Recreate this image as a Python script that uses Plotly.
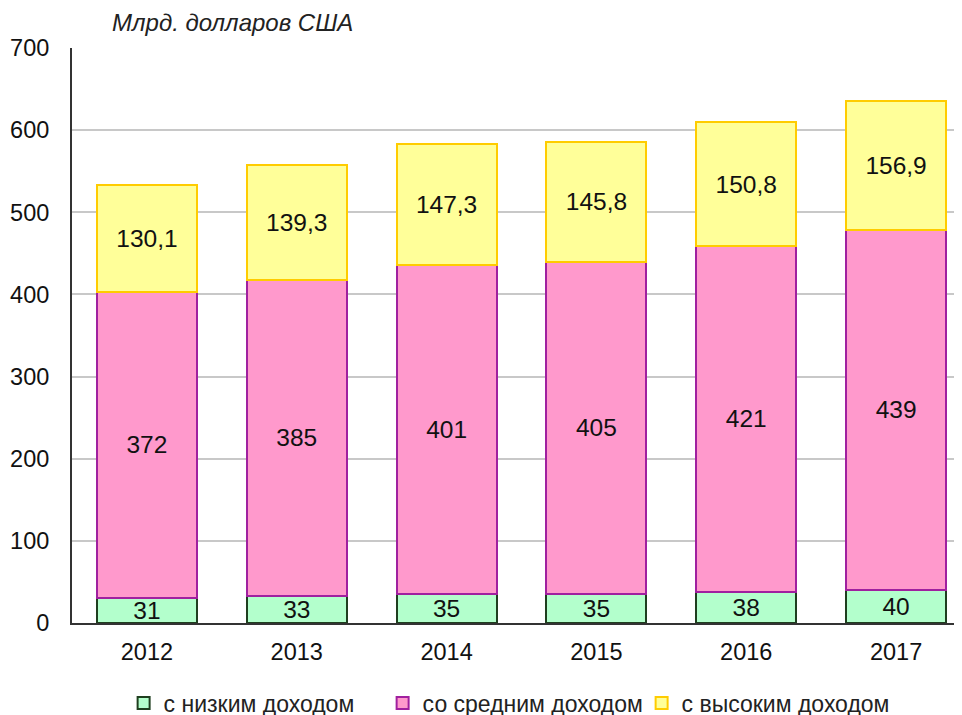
import plotly.graph_objects as go

years = ["2012", "2013", "2014", "2015", "2016", "2017"]
low_income = [31, 33, 35, 35, 38, 40]
middle_income = [372, 385, 401, 405, 421, 439]
high_income = [130.1, 139.3, 147.3, 145.8, 150.8, 156.9]
series_names = ["с низким доходом", "со средним доходом", "с высоким доходом"]
y_ticks = [0, 100, 200, 300, 400, 500, 600, 700]

def fmt(v):
    s = f"{v:.1f}" if v != int(v) else f"{int(v)}"
    return s.replace(".", ",")

FONT = "Liberation Sans, Arial, sans-serif"

fig = go.Figure()
specs = [
    (low_income, series_names[0], "#b3ffcc", "#1f3f1f"),
    (middle_income, series_names[1], "#ff99cc", "#a0209f"),
    (high_income, series_names[2], "#ffff99", "#ffcc00"),
]
for vals, name, fill, line in specs:
    fig.add_trace(go.Bar(
        x=years, y=vals, name=name,
        marker=dict(color=fill, line=dict(color=line, width=2)),
        text=[fmt(v) for v in vals],
        textposition="inside", insidetextanchor="middle",
        textangle=0, constraintext="none",
        textfont=dict(size=24.5, color="#111111", family=FONT),
        width=0.667,
    ))

fig.update_layout(
    width=962, height=715,
    barmode="stack",
    plot_bgcolor="white", paper_bgcolor="white",
    margin=dict(l=64, r=8, t=40, b=100, autoexpand=False),
    font=dict(family=FONT, color="#111111"),
    showlegend=True,
    legend=dict(orientation="h", x=0.058, xanchor="left", y=-0.139, yanchor="middle",
                font=dict(size=23, color="#222222", family=FONT),
                entrywidth=214, entrywidthmode="pixels", traceorder="normal",
                itemwidth=30),
    uniformtext=dict(mode=False),
)
fig.update_xaxes(
    range=[-0.5, 5.44], showgrid=False, showline=True, linecolor="#333333", linewidth=2,
    tickfont=dict(size=23.5, color="#111111", family=FONT), ticks="", ticklabelstandoff=7,
)
fig.update_yaxes(
    range=[0, 700], tickvals=y_ticks, showgrid=True, gridcolor="#c8c8c8", gridwidth=2,
    showline=True, linecolor="#333333", linewidth=2, zeroline=False,
    tickfont=dict(size=23.5, color="#111111", family=FONT), ticks="", ticklabelstandoff=16,
)
fig.add_annotation(
    text="<i>Млрд. долларов США</i>", xref="paper", yref="paper",
    x=0.0427, y=1.045, xanchor="left", yanchor="middle", showarrow=False,
    font=dict(size=24, color="#222222", family=FONT),
)
fig.write_html("out.html")
